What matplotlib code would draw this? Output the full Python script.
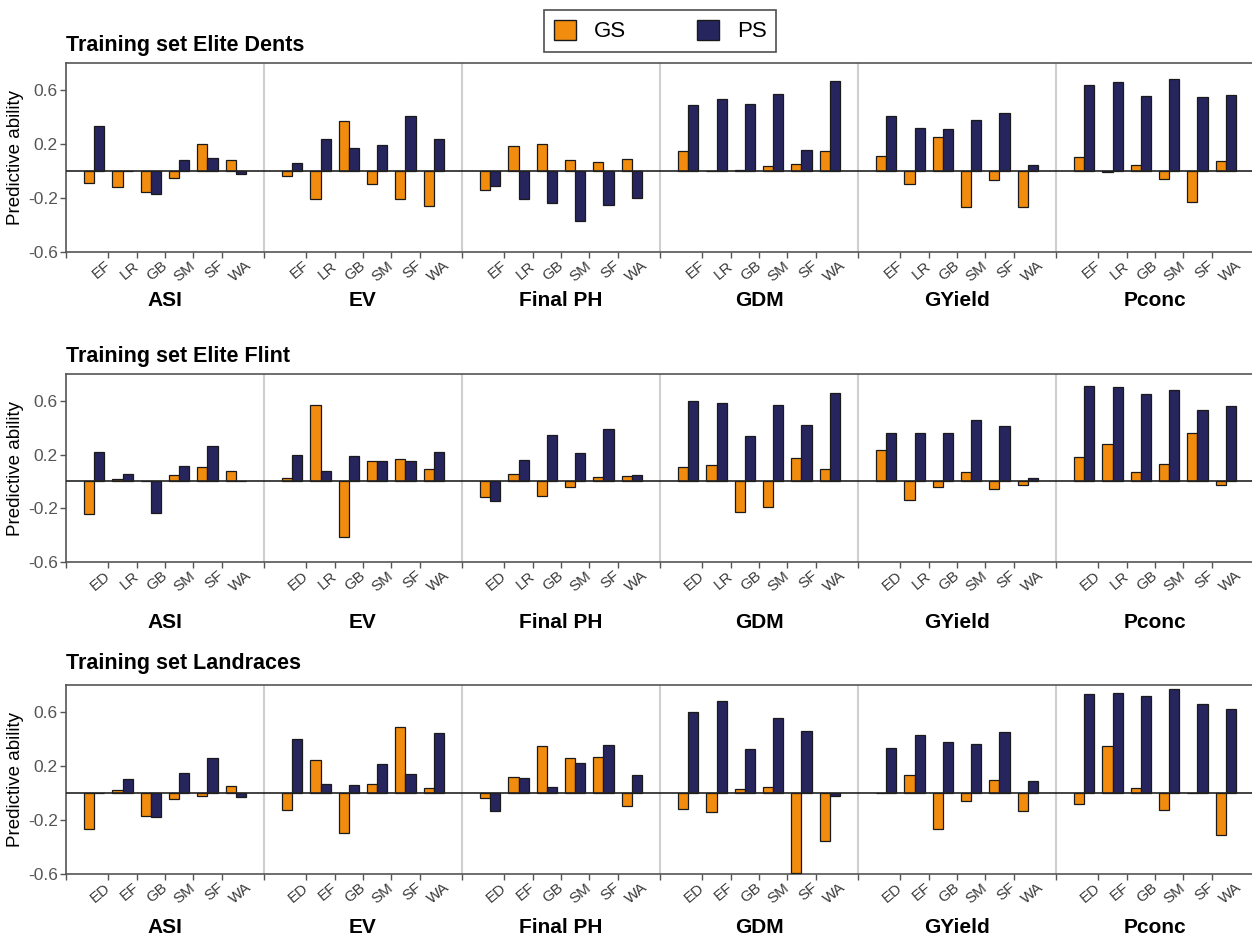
import numpy as np
import matplotlib.pyplot as plt
from matplotlib.patches import Patch
from matplotlib.transforms import blended_transform_factory

plt.rcParams['font.family'] = ['Liberation Sans', 'DejaVu Sans']

# Datos
traits = ['ASI', 'EV', 'Final PH', 'GDM', 'GYield', 'Pconc']
cats_dents = ['EF', 'LR', 'GB', 'SM', 'SF', 'WA']
cats_flint = ['ED', 'LR', 'GB', 'SM', 'SF', 'WA']
cats_land = ['ED', 'EF', 'GB', 'SM', 'SF', 'WA']

gs_dents = [[-0.09, -0.12, -0.155, -0.055, 0.20, 0.085],
            [-0.04, -0.205, 0.37, -0.10, -0.205, -0.26],
            [-0.143, 0.185, 0.20, 0.08, 0.064, 0.086],
            [0.146, 0.0, 0.01, 0.035, 0.05, 0.146],
            [0.11, -0.10, 0.25, -0.265, -0.067, -0.265],
            [0.104, -0.005, 0.044, -0.057, -0.227, 0.074]]
ps_dents = [[0.33, 0.0, -0.17, 0.08, 0.095, -0.02],
            [0.06, 0.24, 0.17, 0.195, 0.41, 0.24],
            [-0.114, -0.21, -0.24, -0.37, -0.25, -0.20],
            [0.49, 0.535, 0.495, 0.57, 0.153, 0.67],
            [0.41, 0.32, 0.31, 0.38, 0.43, 0.042],
            [0.635, 0.66, 0.555, 0.685, 0.55, 0.565]]

gs_flint = [[-0.245, 0.017, 0.0, 0.047, 0.104, 0.081],
            [0.022, 0.57, -0.415, 0.153, 0.165, 0.091],
            [-0.114, 0.054, -0.106, -0.044, 0.035, 0.04],
            [0.104, 0.123, -0.23, -0.193, 0.173, 0.091],
            [0.235, -0.14, -0.042, 0.067, -0.054, -0.025],
            [0.18, 0.277, 0.067, 0.128, 0.358, -0.025]]
ps_flint = [[0.217, 0.054, -0.232, 0.116, 0.264, 0.005],
            [0.20, 0.077, 0.193, 0.153, 0.15, 0.22],
            [-0.143, 0.158, 0.343, 0.215, 0.388, 0.047],
            [0.60, 0.585, 0.336, 0.568, 0.422, 0.662],
            [0.358, 0.358, 0.363, 0.454, 0.415, 0.025],
            [0.714, 0.704, 0.652, 0.684, 0.531, 0.558]]

gs_land = [[-0.27, 0.022, -0.168, -0.048, -0.02, 0.055],
           [-0.123, 0.248, -0.295, 0.065, 0.488, 0.035],
           [-0.038, 0.118, 0.345, 0.258, 0.265, -0.093],
           [-0.118, -0.138, 0.03, 0.048, -0.59, -0.355],
           [0.0, 0.13, -0.265, -0.058, 0.095, -0.13],
           [-0.083, 0.345, 0.038, -0.123, 0.0, -0.308]]
ps_land = [[0.0, 0.105, -0.175, 0.148, 0.258, -0.033],
           [0.40, 0.07, 0.06, 0.218, 0.14, 0.443],
           [-0.13, 0.11, 0.048, 0.225, 0.358, 0.13],
           [0.598, 0.678, 0.325, 0.555, 0.458, -0.02],
           [0.333, 0.428, 0.378, 0.365, 0.455, 0.09],
           [0.733, 0.743, 0.718, 0.773, 0.66, 0.625]]

titles = ['Training set Elite Dents', 'Training set Elite Flint', 'Training set Landraces']

ORANGE = '#F28C0F'
NAVY = '#27255E'
W, H = 1252, 938

fig = plt.figure(figsize=(W / 100, H / 100), dpi=100)

# (titulo, categorias, GS, PS, top px, bottom px, titulo px, rasgo px)
rows = [(titles[0], cats_dents, gs_dents, ps_dents, 63, 252, 45, 301),
        (titles[1], cats_flint, gs_flint, ps_flint, 374, 562, 356, 623),
        (titles[2], cats_land, gs_land, ps_land, 685, 874, 663, 927)]

bw = 0.36
for title, cats, gs, ps, top, bot, ty, fy in rows:
    ax = fig.add_axes([66 / W, 1 - bot / H, 1188 / W, (bot - top) / H])
    tr = blended_transform_factory(ax.transData, ax.transAxes)
    fy_ax = -(fy - bot) / (bot - top)
    for f in range(6):
        pos = f * 7 + np.arange(1, 7)
        ax.bar(pos - bw / 2, gs[f], bw, color=ORANGE, edgecolor='#1a1a1a', linewidth=0.9, zorder=3)
        ax.bar(pos + bw / 2, ps[f], bw, color=NAVY, edgecolor='#1a1a1a', linewidth=0.9, zorder=3)
        for p, c in zip(pos, cats):
            ax.text(p + 0.35, -0.035, c, transform=tr, rotation=40, ha='right', va='top',
                    rotation_mode='anchor', fontsize=11, color='#3a3a3a')
        ax.text(f * 7 + 3.5, fy_ax, traits[f], transform=tr, ha='center', va='center',
                fontsize=15, fontweight='bold')
        if f > 0:
            ax.axvline(f * 7, color='#cfcfcf', linewidth=1.5, zorder=0)
    ax.axhline(0, color='#222222', linewidth=1.2, zorder=4)

    ax.set_xlim(0, 42)
    ax.set_ylim(-0.6, 0.8)
    bounds = [f * 7 + b for f in range(6) for b in [0, 1.5, 2.5, 3.5, 4.5, 5.5]]
    ax.set_xticks(bounds)
    ax.set_xticklabels([])
    ax.set_yticks([-0.6, -0.2, 0.2, 0.6])
    ax.set_yticklabels(['-0.6', '-0.2', '0.2', '0.6'])
    ax.tick_params(axis='both', length=4, width=1, color='#555555', labelsize=12.5,
                   labelcolor='#555555')
    ax.tick_params(axis='y', pad=2)
    for s in ['top', 'left', 'bottom']:
        ax.spines[s].set_color('#555555')
        ax.spines[s].set_linewidth(1.2)
    ax.spines['right'].set_visible(False)
    ax.set_ylabel('Predictive ability', fontsize=13.5, labelpad=3)

    fig.text(66 / W, 1 - ty / H, title, fontsize=15.5, fontweight='bold', va='center', ha='left')

handles = [Patch(facecolor=ORANGE, edgecolor='#1a1a1a', label='GS'),
           Patch(facecolor=NAVY, edgecolor='#1a1a1a', label='PS')]
leg = fig.legend(handles=handles, loc='center', bbox_to_anchor=(660 / W, 1 - 31 / H), ncol=2,
                 fontsize=16, frameon=True, fancybox=False, edgecolor='#222222',
                 handlelength=1.0, handleheight=1.0, columnspacing=3.2, handletextpad=0.8,
                 borderpad=0.45, borderaxespad=0)
leg.get_frame().set_linewidth(1.2)

fig.savefig('out.png', dpi=100)
